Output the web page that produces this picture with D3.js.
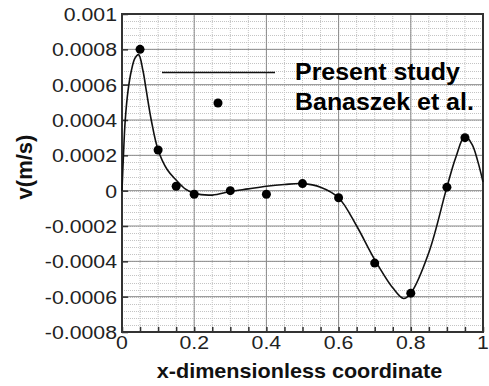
<!DOCTYPE html>
<html><head><meta charset="utf-8">
<script src="https://cdn.jsdelivr.net/npm/d3@7"></script>
<style>body{margin:0;background:#fff}svg{display:block}text{font-family:"Liberation Sans",Arial,sans-serif}</style>
</head><body><svg id="c" width="489" height="386"></svg>
<script>
// Present study (line)
const curveX = [0, 0.004, 0.009, 0.017, 0.026, 0.036, 0.046, 0.058, 0.067, 0.081, 0.1, 0.125, 0.15, 0.175, 0.2, 0.25, 0.3, 0.35, 0.4, 0.45, 0.5, 0.55, 0.6, 0.65, 0.7, 0.75, 0.78, 0.8, 0.85, 0.9, 0.925, 0.95, 0.97, 0.985, 1.0];
const curveV = [0, 0.0002, 0.0004, 0.00057, 0.00068, 0.00075, 0.00077, 0.00068, 0.00057, 0.0004, 0.00023, 0.00012, 0.00006, 0.00001, -0.000015, -0.000025, -0.000005, 0.00001, 0.000025, 0.000035, 0.00004, 0.00002, -0.00004, -0.0002, -0.00039, -0.00055, -0.00061, -0.00058, -0.00035, 0.00002, 0.00019, 0.00031, 0.00026, 0.00017, 0.00005];
// Banaszek et al. (points)
const pointX = [0.05, 0.1, 0.15, 0.2, 0.3, 0.4, 0.5, 0.6, 0.7, 0.8, 0.9, 0.95];
const pointV = [0.0008, 0.00023, 0.000025, -0.00002, 0, -0.00002, 0.00004, -0.00004, -0.00041, -0.00058, 0.00002, 0.0003];
const xTicks = [0, 0.2, 0.4, 0.6, 0.8, 1];
const xTickLabels = ["0", "0.2", "0.4", "0.6", "0.8", "1"];
const yTicks = [0.001, 0.0008, 0.0006, 0.0004, 0.0002, 0, -0.0002, -0.0004, -0.0006, -0.0008];
const yTickLabels = ["0.001", "0.0008", "0.0006", "0.0004", "0.0002", "0", "-0.0002", "-0.0004", "-0.0006", "-0.0008"];
const legendLabels = ["Present study", "Banaszek et al."];

const L = 122, R = 483, T = 14, B = 332;
const svg = d3.select("#c");
const x = d3.scaleLinear().domain([0, 1]).range([L, R]);
const y = d3.scaleLinear().domain([-0.0008, 0.001]).range([B, T]);

// minor grid
const xMinor = d3.range(0, 1.0001, 0.05);
const yMinor = d3.range(-0.0008, 0.00100001, 0.00004);
const g = svg.append("g");
g.selectAll(".vm").data(xMinor).join("line")
  .attr("x1", d => x(d)).attr("x2", d => x(d)).attr("y1", T).attr("y2", B)
  .attr("stroke", "#c4c4c4").attr("stroke-width", 1).attr("stroke-dasharray", "1,1");
g.selectAll(".hm").data(yMinor).join("line")
  .attr("x1", L).attr("x2", R).attr("y1", d => Math.round(y(d)) + 0.5).attr("y2", d => Math.round(y(d)) + 0.5)
  .attr("stroke", "#c4c4c4").attr("stroke-width", 1).attr("stroke-dasharray", "1,1");
// major grid
g.selectAll(".vM").data(xTicks).join("line")
  .attr("x1", d => x(d)).attr("x2", d => x(d)).attr("y1", T).attr("y2", B)
  .attr("stroke", "#8a8a8a").attr("stroke-width", 1);
g.selectAll(".hM").data(yTicks).join("line")
  .attr("x1", L).attr("x2", R).attr("y1", d => y(d)).attr("y2", d => y(d))
  .attr("stroke", "#8a8a8a").attr("stroke-width", 1);

// axes with inward ticks
const xAxis = d3.axisBottom(x).tickValues(xMinor).tickSize(-5).tickFormat("");
svg.append("g").attr("transform", `translate(0,${B})`).call(xAxis)
  .call(s => s.select(".domain").remove())
  .call(s => s.selectAll("line").attr("stroke", "#333").attr("stroke-width", 1.5));
const yAxis = d3.axisLeft(y).tickValues(yTicks).tickSize(-6).tickFormat("");
svg.append("g").attr("transform", `translate(${L},0)`).call(yAxis)
  .call(s => s.select(".domain").remove())
  .call(s => s.selectAll("line").attr("stroke", "#333").attr("stroke-width", 1.5));

// tick labels
svg.append("g").selectAll("text").data(yTicks).join("text")
  .attr("transform", d => `translate(117,${y(d)}) scale(1.12,1)`)
  .attr("text-anchor", "end").attr("dy", "0.36em")
  .attr("font-size", 19).attr("fill", "#222")
  .text((d, i) => yTickLabels[i]);
svg.append("g").selectAll("text").data(xTicks).join("text")
  .attr("transform", d => `translate(${x(d)},${B + 17}) scale(1.12,1)`)
  .attr("text-anchor", "middle")
  .attr("font-size", 19).attr("fill", "#222")
  .text((d, i) => xTickLabels[i]);

// border
svg.append("rect").attr("x", L).attr("y", T).attr("width", R - L).attr("height", B - T)
  .attr("fill", "none").attr("stroke", "#333").attr("stroke-width", 2);

// curve
const lineData = curveX.map((d, i) => [d, curveV[i]]);
svg.append("path").datum(lineData)
  .attr("d", d3.line().x(d => x(d[0])).y(d => y(d[1])).curve(d3.curveCatmullRom.alpha(0.5)))
  .attr("fill", "none").attr("stroke", "#111").attr("stroke-width", 1.6);

// points
svg.append("g").selectAll("circle").data(pointX).join("circle")
  .attr("cx", d => x(d)).attr("cy", (d, i) => y(pointV[i])).attr("r", 4.5).attr("fill", "#000");

// legend
svg.append("line").attr("x1", 162).attr("x2", 275).attr("y1", 72.5).attr("y2", 72.5)
  .attr("stroke", "#111").attr("stroke-width", 1.6);
svg.append("circle").attr("cx", 218).attr("cy", 103).attr("r", 4.5).attr("fill", "#000");
svg.append("g").selectAll("text").data(legendLabels).join("text")
  .attr("transform", (d, i) => `translate(295,${80 + i * 30}) scale(1.04,1)`)
  .attr("font-size", 24).attr("font-weight", "bold").attr("fill", "#000")
  .text(d => d);

// axis titles
svg.append("text").attr("transform", `translate(${(L + R) / 2 - 3},378) scale(1.08,1)`)
  .attr("text-anchor", "middle").attr("font-size", 20).attr("font-weight", "bold").attr("fill", "#111")
  .text("x-dimensionless coordinate");
svg.append("text").attr("transform", "translate(32,167) rotate(-90)")
  .attr("text-anchor", "middle").attr("font-size", 22).attr("font-weight", "bold").attr("fill", "#111")
  .text("v(m/s)");
</script></body></html>
